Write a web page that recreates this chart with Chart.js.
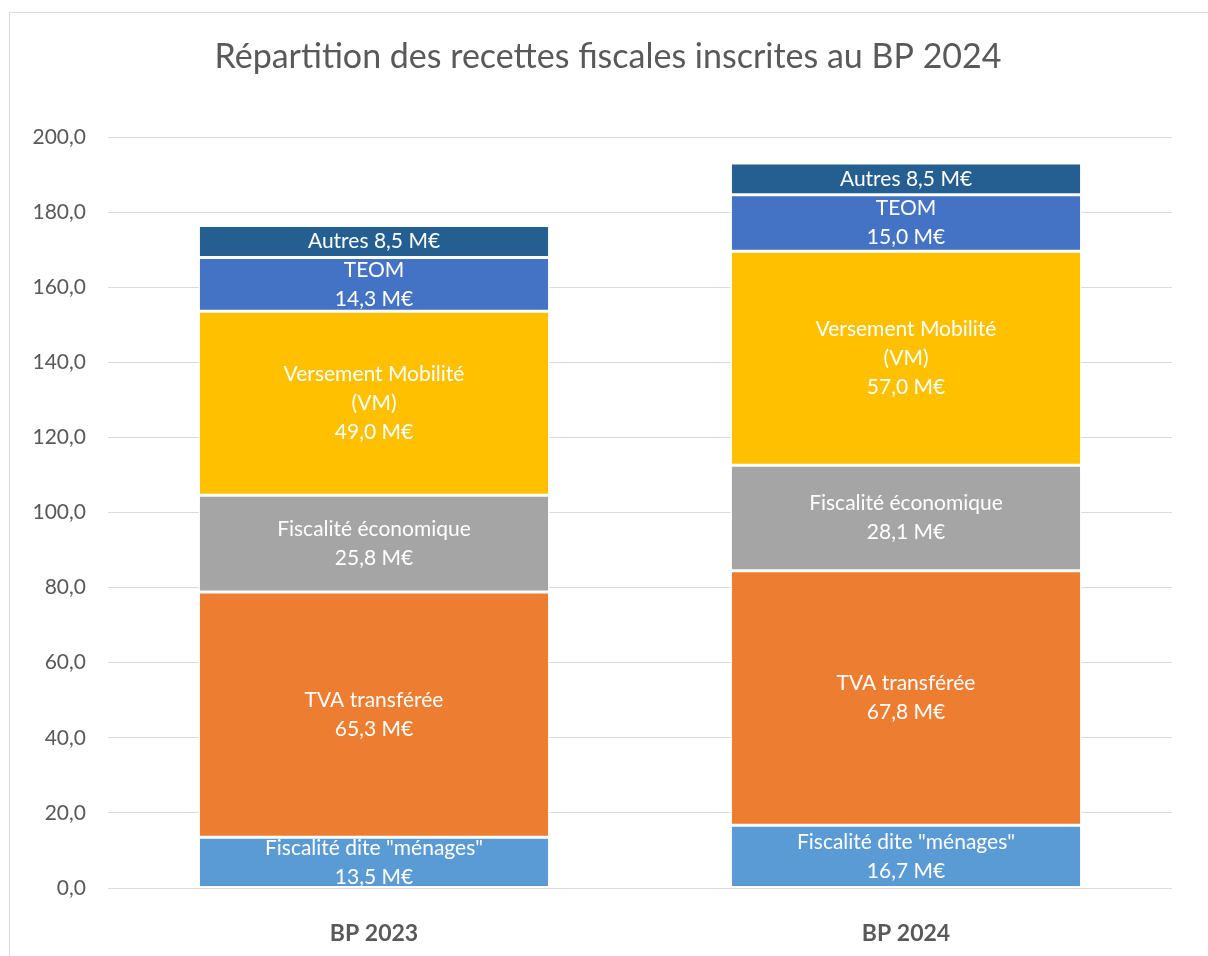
<!DOCTYPE html>
<html>
<head>
<meta charset="utf-8">
<script src="https://cdn.jsdelivr.net/npm/chart.js@4.4.1/dist/chart.umd.min.js"></script>
<style>
  body { margin: 0; background: #fff; }
  #frame { position: absolute; left: 9px; top: 12px; width: 1220px; height: 970px; border: 1px solid #d9d9d9; }
  #wrap { position: absolute; left: 0; top: 0; width: 1208px; height: 956px; }
</style>
</head>
<body>
<div id="frame"></div>
<div id="wrap"><canvas id="myStackChart" width="1208" height="956"></canvas></div>
<script>
const categories = ["BP 2023", "BP 2024"];
const seriesNames = [
  ["Fiscalité dite \"ménages\""],
  ["TVA transférée"],
  ["Fiscalité économique"],
  ["Versement Mobilité", "(VM)"],
  ["TEOM"],
  ["Autres"]
];
const menages = [13.5, 16.7];
const tva = [65.3, 67.8];
const ecoFiscal = [25.8, 28.1];
const mobilite = [49.0, 57.0];
const teom = [14.3, 15.0];
const autres = [8.5, 8.5];
const colors = ["#5b9bd5", "#ed7d31", "#a5a5a5", "#ffc000", "#4472c4", "#255e91"];
const yTicks = [0, 20, 40, 60, 80, 100, 120, 140, 160, 180, 200];
const chartTitle = "Répartition des recettes fiscales inscrites au BP 2024";

const fontName = "Lato, 'Open Sans', sans-serif";

function fmt(v) {
  return v.toFixed(1).replace(".", ",");
}

// title centred on the whole frame, not only the plot
const frameTitle = {
  id: "frameTitle",
  afterDraw(chart) {
    const ctx = chart.ctx;
    ctx.save();
    ctx.fillStyle = "#595959";
    ctx.font = "34px " + fontName;
    ctx.textAlign = "center";
    ctx.textBaseline = "middle";
    ctx.fillText(chartTitle, chart.width / 2 + 4, 57);
    ctx.restore();
  }
};

// draws the centred white labels inside each segment
const segmentLabels = {
  id: "segmentLabels",
  afterDatasetsDraw(chart) {
    const ctx = chart.ctx;
    ctx.save();
    ctx.fillStyle = "#ffffff";
    ctx.font = "21px " + fontName;
    ctx.textAlign = "center";
    ctx.textBaseline = "middle";
    chart.data.datasets.forEach((ds, i) => {
      const meta = chart.getDatasetMeta(i);
      meta.data.forEach((bar, j) => {
        let lines = seriesNames[i].slice();
        let valueText = fmt(ds.data[j]) + " M€";
        if (i === 5) {
          lines = [lines[0] + " " + valueText];
        } else {
          lines.push(valueText);
        }
        const lh = 29;
        const cy = (bar.y + bar.base) / 2;
        const y0 = cy - (lines.length - 1) * lh / 2;
        lines.forEach((t, k) => ctx.fillText(t, bar.x, y0 + k * lh));
      });
    });
    ctx.restore();
  }
};

const series = [menages, tva, ecoFiscal, mobilite, teom, autres];

const ctx1 = document.getElementById("myStackChart");

new Chart(ctx1, {
  type: "bar",
  data: {
    labels: categories,
    datasets: series.map((d, i) => ({
      label: seriesNames[i].join(" "),
      data: d,
      backgroundColor: colors[i],
      borderColor: "#ffffff",
      borderWidth: 1.5,
      borderSkipped: false,
      categoryPercentage: 1,
      barPercentage: 0.66,
    })),
  },
  options: {
    responsive: false,
    animation: false,
    layout: { padding: { left: 0, right: 36, top: 137, bottom: 0 } },
    plugins: {
      legend: { display: false },
      tooltip: { enabled: false },
      title: { display: false },
    },
    scales: {
      x: {
        stacked: true,
        grid: { display: false },
        border: { display: false },
        ticks: { color: "#595959", padding: 24, font: { family: fontName, size: 23, weight: "bold" } },
        afterFit(scale) { scale.height = 68; },
      },
      y: {
        stacked: true,
        min: 0,
        max: 200,
        afterBuildTicks(scale) { scale.ticks = yTicks.map(v => ({ value: v })); },
        grid: { color: "#d9d9d9", lineWidth: 1, drawTicks: false },
        border: { display: false },
        ticks: {
          color: "#595959",
          padding: 22,
          font: { family: fontName, size: 21 },
          callback: (v) => fmt(v),
        },
        afterFit(scale) { scale.width = 108; },
      },
    },
  },
  plugins: [segmentLabels, frameTitle],
});
</script>
</body>
</html>
